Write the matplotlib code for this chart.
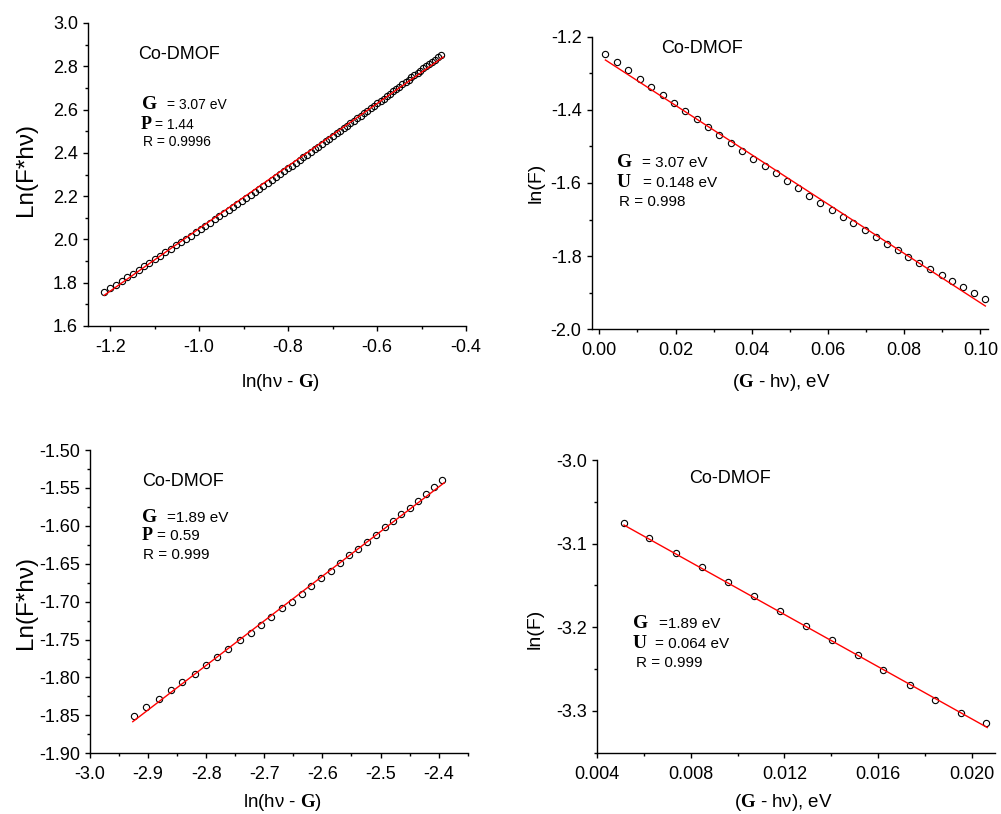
import matplotlib
matplotlib.use('Agg')
import matplotlib.pyplot as plt
from matplotlib.ticker import MultipleLocator, FormatStrFormatter

plt.rcParams['font.family'] = 'Liberation Sans'
plt.rcParams['axes.unicode_minus'] = False
plt.rcParams['mathtext.fontset'] = 'custom'
plt.rcParams['mathtext.bf'] = 'Liberation Serif:bold'
plt.rcParams['mathtext.rm'] = 'Liberation Sans'
plt.rcParams['mathtext.it'] = 'Liberation Sans:italic'

# ---------------- data ----------------
# Panel (a): Ln(F*hv) vs ln(hv - G), G = 3.07 eV
a_x = [-1.214, -1.201, -1.187, -1.174, -1.162, -1.149, -1.136, -1.124, -1.112, -1.100,
       -1.088, -1.076, -1.064, -1.053, -1.041, -1.030, -1.019, -1.008, -0.997, -0.986,
       -0.976, -0.965, -0.955, -0.944, -0.934, -0.924, -0.914, -0.904, -0.894, -0.884,
       -0.875, -0.865, -0.856, -0.846, -0.837, -0.828, -0.819, -0.810, -0.801, -0.792,
       -0.783, -0.774, -0.766, -0.757, -0.749, -0.740, -0.732, -0.724, -0.715, -0.707,
       -0.699, -0.691, -0.683, -0.675, -0.667, -0.660, -0.652, -0.644, -0.637, -0.629,
       -0.622, -0.614, -0.607, -0.600, -0.592, -0.585, -0.578, -0.571, -0.564, -0.557,
       -0.550, -0.543, -0.536, -0.529, -0.523, -0.516, -0.509, -0.503, -0.496, -0.489,
       -0.483, -0.476, -0.470, -0.464, -0.457]
a_y = [1.756, 1.774, 1.791, 1.808, 1.825, 1.842, 1.859, 1.875, 1.892, 1.908,
       1.924, 1.940, 1.956, 1.972, 1.987, 2.003, 2.018, 2.033, 2.049, 2.064,
       2.078, 2.093, 2.108, 2.122, 2.137, 2.151, 2.165, 2.179, 2.193, 2.207,
       2.221, 2.235, 2.248, 2.262, 2.275, 2.289, 2.302, 2.315, 2.328, 2.341,
       2.354, 2.367, 2.379, 2.392, 2.404, 2.417, 2.429, 2.442, 2.454, 2.466,
       2.478, 2.490, 2.502, 2.514, 2.526, 2.538, 2.549, 2.561, 2.572, 2.584,
       2.595, 2.607, 2.618, 2.629, 2.640, 2.651, 2.662, 2.673, 2.684, 2.695,
       2.706, 2.717, 2.727, 2.738, 2.749, 2.759, 2.769, 2.780, 2.790, 2.801,
       2.811, 2.821, 2.831, 2.841, 2.851]
a_fit_x = [-1.2135, -0.451]
a_fit_y = [1.742, 2.843]

# Panel (b): ln(F) vs (G - hv), G = 3.07 eV
b_x = [0.0016, 0.0046, 0.0076, 0.0106, 0.0136, 0.0166, 0.0196, 0.0226, 0.0256, 0.0286,
       0.0315, 0.0345, 0.0375, 0.0404, 0.0434, 0.0463, 0.0493, 0.0522, 0.0551, 0.0580,
       0.0610, 0.0639, 0.0667, 0.0696, 0.0725, 0.0754, 0.0783, 0.0811, 0.0840, 0.0869,
       0.0898, 0.0926, 0.0954, 0.0983, 0.1011]
b_y = [-1.247, -1.270, -1.292, -1.315, -1.338, -1.359, -1.381, -1.404, -1.425, -1.447,
       -1.469, -1.492, -1.513, -1.534, -1.554, -1.574, -1.595, -1.615, -1.635, -1.654,
       -1.674, -1.692, -1.710, -1.729, -1.747, -1.766, -1.783, -1.802, -1.819, -1.834,
       -1.852, -1.868, -1.884, -1.901, -1.917]
b_fit_x = [0.0016, 0.1013]
b_fit_y = [-1.2637, -1.9363]

# Panel (c): Ln(F*hv) vs ln(hv - G), G = 1.89 eV
c_x = [-2.925, -2.904, -2.882, -2.861, -2.841, -2.820, -2.800, -2.781, -2.762, -2.742,
       -2.723, -2.706, -2.688, -2.670, -2.653, -2.636, -2.619, -2.602, -2.586, -2.570,
       -2.554, -2.538, -2.523, -2.508, -2.493, -2.478, -2.464, -2.450, -2.435, -2.421,
       -2.408, -2.394]
c_y = [-1.851, -1.839, -1.828, -1.817, -1.806, -1.795, -1.784, -1.773, -1.762, -1.751,
       -1.741, -1.731, -1.720, -1.709, -1.700, -1.690, -1.679, -1.669, -1.659, -1.649,
       -1.639, -1.630, -1.621, -1.612, -1.602, -1.594, -1.584, -1.576, -1.567, -1.558,
       -1.549, -1.540]
c_fit_x = [-2.9264, -2.3903]
c_fit_y = [-1.8583, -1.5431]

# Panel (d): ln(F) vs (G - hv), G = 1.89 eV
d_x = [0.00512, 0.00623, 0.00736, 0.00847, 0.00958, 0.01070, 0.01181, 0.01291, 0.01402,
       0.01513, 0.01623, 0.01735, 0.01845, 0.01954, 0.02063]
d_y = [-3.0754, -3.0930, -3.1113, -3.1285, -3.1456, -3.1628, -3.1803, -3.1983, -3.2154,
       -3.2334, -3.2509, -3.2689, -3.2864, -3.3020, -3.3139]
d_fit_x = [0.00514, 0.02067]
d_fit_y = [-3.0778, -3.3199]

# ---------------- figure ----------------
W, H = 1001, 814
fig = plt.figure(figsize=(W / 100, H / 100), dpi=100)


def px_axes(l, t, r, b):
    return fig.add_axes([l / W, 1 - b / H, (r - l) / W, (b - t) / H])


def style(ax, xlim, ylim, xmaj, xmin, ymaj, ymin, xfmt, yfmt):
    ax.set_xlim(*xlim)
    ax.set_ylim(*ylim)
    for s in ['top', 'right']:
        ax.spines[s].set_visible(False)
    for s in ['left', 'bottom']:
        ax.spines[s].set_linewidth(1.0)
    ax.xaxis.set_major_locator(MultipleLocator(xmaj))
    ax.xaxis.set_minor_locator(MultipleLocator(xmin))
    ax.yaxis.set_major_locator(MultipleLocator(ymaj))
    ax.yaxis.set_minor_locator(MultipleLocator(ymin))
    ax.xaxis.set_major_formatter(FormatStrFormatter(xfmt))
    ax.yaxis.set_major_formatter(FormatStrFormatter(yfmt))
    ax.tick_params(which='major', direction='out', length=3.8, width=1.0, labelsize=13)
    ax.tick_params(which='minor', direction='out', length=2.2, width=1.0)
    ax.tick_params(axis='x', which='major', pad=5.5)
    ax.tick_params(axis='y', which='major', pad=3.5)


def draw(ax, x, y, fx, fy):
    ax.plot(x, y, linestyle='none', marker='o', ms=4.5, mfc='none', mec='black', mew=0.8,
            clip_on=False)
    ax.plot(fx, fy, color='red', lw=1.0, zorder=3)


def ftext(x, y, s, size, **kw):
    fig.text(x / W, 1 - y / H, s, fontsize=size, va='baseline', ha='left', **kw)


SERIF = dict(family='Liberation Serif', fontweight='bold')

# Panel a
ax1 = px_axes(88, 23, 466, 326)
style(ax1, (-1.25, -0.4), (1.6, 3.0), 0.2, 0.1, 0.2, 0.1, '%.1f', '%.1f')
draw(ax1, a_x, a_y, a_fit_x, a_fit_y)

# Panel b
ax2 = px_axes(591.7, 36.7, 988, 329.3)
style(ax2, (-0.002, 0.102), (-2.0, -1.2), 0.02, 0.01, 0.2, 0.1, '%.2f', '%.1f')
draw(ax2, b_x, b_y, b_fit_x, b_fit_y)

# Panel c
ax3 = px_axes(90, 450, 467.7, 753.3)
style(ax3, (-3.0, -2.35), (-1.90, -1.50), 0.1, 0.05, 0.05, 0.025, '%.1f', '%.2f')
draw(ax3, c_x, c_y, c_fit_x, c_fit_y)

# Panel d
ax4 = px_axes(597.3, 460, 995, 752.7)
style(ax4, (0.004, 0.021), (-3.35, -3.0), 0.004, 0.002, 0.1, 0.05, '%.3f', '%.1f')
draw(ax4, d_x, d_y, d_fit_x, d_fit_y)

# sample names
for (x, y) in [(138, 59), (661, 53.3), (141.7, 485.7), (689, 483.3)]:
    ftext(x, y, 'Co-DMOF', 13)

# annotations panel a
ftext(141.7, 109.3, 'G', 14, **SERIF)
ftext(167.3, 109.3, '= 3.07 eV', 10)
ftext(140.7, 129.3, 'P', 13, **SERIF)
ftext(155, 129.3, '= 1.44', 10)
ftext(143.3, 146, 'R = 0.9996', 10)

# annotations panel b
ftext(616.7, 166.8, 'G', 14, **SERIF)
ftext(641.7, 167, '= 3.07 eV', 11)
ftext(616.7, 187, 'U', 14, **SERIF)
ftext(643, 187, '= 0.148 eV', 11)
ftext(619.3, 206, 'R = 0.998', 11)

# annotations panel c
ftext(141.7, 521.7, 'G', 14, **SERIF)
ftext(166.7, 521.7, '=1.89 eV', 11)
ftext(141.7, 540, 'P', 13, **SERIF)
ftext(156.7, 540, '= 0.59', 11)
ftext(143.3, 559.3, 'R = 0.999', 11)

# annotations panel d
ftext(632.7, 628, 'G', 14, **SERIF)
ftext(659.3, 628, '=1.89 eV', 11)
ftext(632.7, 648.3, 'U', 14, **SERIF)
ftext(655, 648.3, '= 0.064 eV', 11)
ftext(635.7, 666.7, 'R = 0.999', 11)

# axis labels
def ylab(cx, cy, s, size):
    fig.text(cx / W, 1 - cy / H, s, fontsize=size, rotation=90, ha='center', va='center')


def xlab(cx, by, s, size):
    fig.text(cx / W, 1 - by / H, s, fontsize=size, ha='center', va='baseline')


ylab(26, 169, 'Ln(F*hν)', 17.5)
ylab(536, 183, 'ln(F)', 14)
ylab(26, 602.5, 'Ln(F*hν)', 17.5)
ylab(534.7, 629, 'ln(F)', 14)

xlab(280.5, 387.3, r'ln(hν - $\mathbf{G}$)', 13.5)
xlab(781.3, 387.3, r'($\mathbf{G}$ - hν), eV', 13.5)
xlab(282.5, 807.3, r'ln(hν - $\mathbf{G}$)', 13.5)
xlab(783.3, 807.3, r'($\mathbf{G}$ - hν), eV', 13.5)

fig.savefig('out.png', dpi=100)
